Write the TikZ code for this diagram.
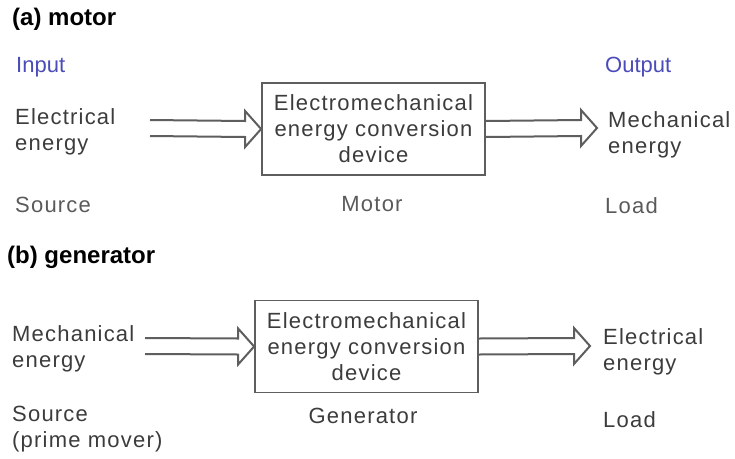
\documentclass[tikz,border=0pt]{standalone}
\usepackage{fontspec}
\setmainfont{Liberation Sans}
\usetikzlibrary{calc}
\definecolor{ecText}{HTML}{3C3C3C}
\definecolor{ecMute}{HTML}{5A5A5A}
\definecolor{ecBlue}{HTML}{4B4BB9}
\definecolor{ecLine}{HTML}{5E5E5E}
\tikzset{
  lbl/.style={
    inner sep=0pt, text=ecText, align=left,
    font=\fontsize{22}{26}\selectfont\addfontfeature{LetterSpace=5.5}
  },
  role/.style={lbl, text=ecMute},
  io/.style={inner sep=0pt, text=ecBlue, font=\fontsize{22}{26}\selectfont},
  part/.style={inner sep=0pt, text=black, font=\fontsize{24}{28}\selectfont\bfseries},
  device/.style={
    lbl, draw=ecLine, line width=1.8pt, align=center,
    minimum width=223pt, minimum height=92pt
  },
  fatarrow/.style={draw=ecLine, line width=2pt, line join=miter}
}
% hollow double-line arrow from #1 to the tip #2
\newcommand{\hollowarrow}[2]{%
  \draw[fatarrow] ($(#1)+(0,-8)$) -- ($(#2)+(-16,-8)$) -- ($(#2)+(-16,-18)$)
    -- (#2) -- ($(#2)+(-16,18)$) -- ($(#2)+(-16,8)$) -- ($(#1)+(0,8)$);}
\begin{document}
\begin{tikzpicture}[x=1pt, y=-1pt]
  \useasboundingbox[fill=white] (0,0) rectangle (735,458);

  % (a) motor
  \node[part, anchor=base west] (titleA) at (12,25) {(a) motor};
  \node[io, anchor=base west] (inputA) at (16,72) {Input};
  \node[io, anchor=base west] (outputA) at (605,72) {Output};
  \node[lbl, anchor=west] (elecA) at (15,132) {Electrical\\energy};
  \node[device] (boxA) at (373.5,129) {Electromechanical\\energy conversion\\device};
  \node[lbl, anchor=west] (mechA) at (608,135) {Mechanical\\energy};
  \coordinate (srcA) at (150,128);
  \coordinate (outA) at (597,128);
  \hollowarrow{srcA}{boxA.west}
  \hollowarrow{boxA.east}{outA}
  \node[role, anchor=base west] (sourceA) at (15,212) {Source};
  \node[role, anchor=base] (motorA) at (372,211) {Motor};
  \node[role, anchor=base west] (loadA) at (605,213) {Load};

  % (b) generator
  \node[part, anchor=base west] (titleB) at (7,263) {(b) generator};
  \node[lbl, anchor=west] (mechB) at (12,349) {Mechanical\\energy};
  \node[device] (boxB) at (366.5,346.5) {Electromechanical\\energy conversion\\device};
  \node[lbl, anchor=west] (elecB) at (603,352) {Electrical\\energy};
  \coordinate (srcB) at (145,346);
  \coordinate (outB) at (590,346);
  \hollowarrow{srcB}{boxB.west}
  \hollowarrow{boxB.east}{outB}
  \node[lbl, anchor=west] (sourceB) at (12,429) {Source\\(prime mover)};
  \node[lbl, anchor=base] (genB) at (363,423) {Generator};
  \node[lbl, anchor=base west] (loadB) at (603,427) {Load};
\end{tikzpicture}
\end{document}
